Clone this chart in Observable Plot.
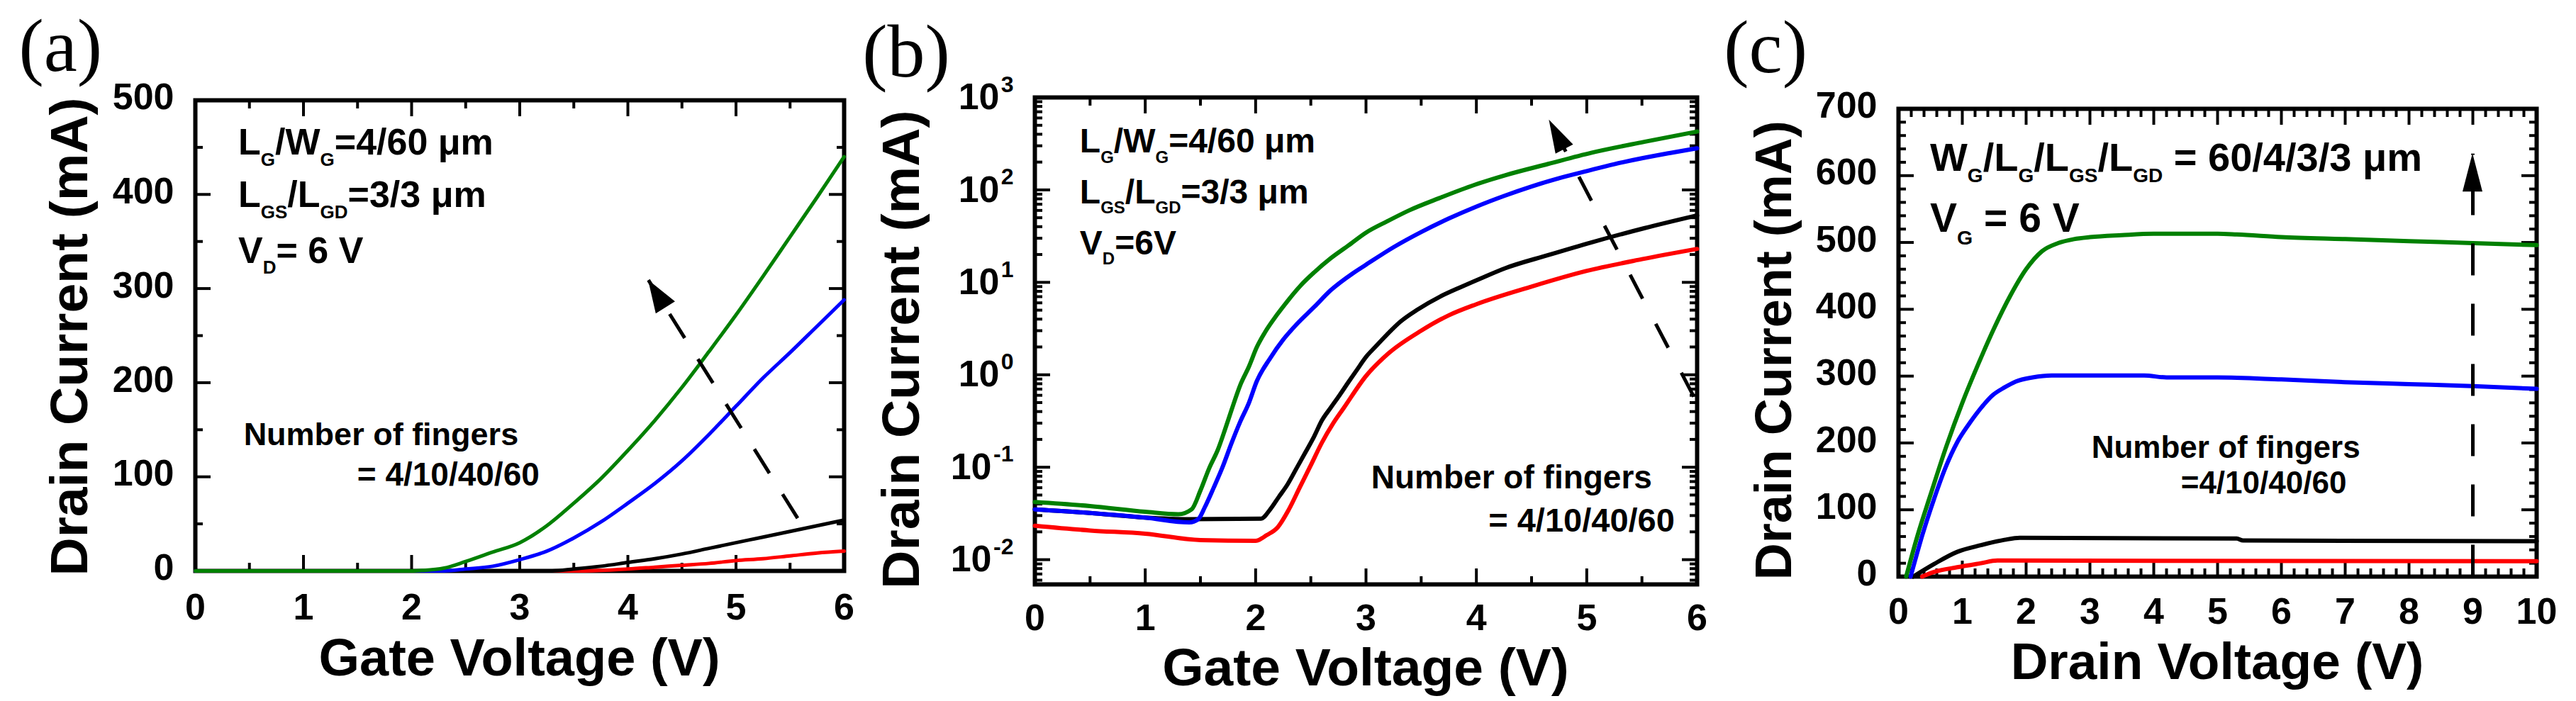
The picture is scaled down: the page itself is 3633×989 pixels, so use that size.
<!DOCTYPE html>
<html>
<head>
<meta charset="utf-8">
<script src="https://cdn.jsdelivr.net/npm/d3@7"></script>
<script src="https://cdn.jsdelivr.net/npm/@observablehq/plot@0.6"></script>
<style>
html, body { margin: 0; padding: 0; background: #fff; }
#page { position: relative; width: 3633px; height: 989px; overflow: hidden; background: #fff; }
.panel { position: absolute; top: 0; }
.panel svg { overflow: visible; max-width: none; background: transparent; }
</style>
</head>
<body>
<div id="page">
  <div class="panel" id="pa" style="left:0px;width:1200px"></div>
  <div class="panel" id="pb" style="left:1200px;width:1240px"></div>
  <div class="panel" id="pc" style="left:2440px;width:1193px"></div>
</div>
<script>
// ---------- Panel (a): Drain current vs gate voltage (linear) ----------
const aGreenV = [0, 1, 2, 2.1, 2.3, 2.5, 2.75, 3, 3.25, 3.5, 3.75, 4, 4.25, 4.5, 4.75, 5, 5.25, 5.5, 5.75, 6];
const aGreenI = [0, 0, 0, 0.5, 3, 10, 20, 30, 48, 72, 98, 128, 160, 195, 233, 272, 313, 355, 397, 440];
const aBlueV  = [0, 1, 2, 2.3, 2.5, 2.75, 3, 3.25, 3.5, 3.75, 4, 4.25, 4.5, 4.75, 5, 5.25, 5.5, 5.75, 6];
const aBlueI  = [0, 0, 0, 0, 2, 5, 12, 21, 35, 52, 72, 93, 117, 145, 175, 205, 232, 260, 288];
const aBlackV = [0, 1, 2, 3, 3.3, 3.5, 3.75, 4, 4.25, 4.5, 4.75, 5, 5.25, 5.5, 5.75, 6];
const aBlackI = [0, 0, 0, 0, 0, 2, 5, 9, 13, 18, 24, 30, 36, 42, 48, 54];
const aRedV   = [0, 1, 2, 3, 3.6, 4, 4.25, 4.5, 4.75, 5, 5.25, 5.5, 5.75, 6];
const aRedI   = [0, 0, 0, 0, 0, 2, 4, 6, 8, 11, 13, 16, 19, 21];
const aArrow  = {x1: 5.57, y1: 56, x2: 4.19, y2: 309};
const aXTicks = [0, 1, 2, 3, 4, 5, 6];
const aXMinor = [0.5, 1.5, 2.5, 3.5, 4.5, 5.5];
const aYTicks = [0, 100, 200, 300, 400, 500];
const aYMinor = [50, 150, 250, 350, 450];

// ---------- Panel (b): Drain current vs gate voltage (log) ----------
const bGreenV = [0, 0.5, 1, 1.3, 1.42, 1.5, 1.58, 1.66, 1.72, 1.78, 1.86, 1.94, 2.01, 2.09, 2.19, 2.29, 2.41, 2.53, 2.68, 2.84, 3.0, 3.19, 3.39, 3.67, 3.98, 4.26, 4.65, 5.04, 5.52, 6.0];
const bGreenI = [0.042, 0.038, 0.033, 0.031, 0.035, 0.056, 0.098, 0.157, 0.25, 0.41, 0.77, 1.23, 1.98, 2.95, 4.4, 6.3, 9.3, 12.8, 18.2, 25, 34.5, 45.6, 60, 82, 113, 144, 191, 252, 331, 428];
const bBlueV  = [0, 0.5, 1, 1.4, 1.48, 1.54, 1.62, 1.7, 1.78, 1.86, 1.94, 2.01, 2.13, 2.25, 2.37, 2.53, 2.68, 2.88, 3.0, 3.25, 3.5, 3.75, 4.0, 4.25, 4.5, 4.75, 5.0, 5.25, 5.5, 5.75, 6.0];
const bBlueI  = [0.035, 0.032, 0.0285, 0.0253, 0.0274, 0.037, 0.06, 0.1, 0.18, 0.31, 0.5, 0.85, 1.5, 2.4, 3.5, 5.4, 8.2, 12.5, 15.5, 24, 35, 49, 66, 86, 109, 134, 160, 190, 220, 250, 282];
const bBlackV = [0, 0.5, 1, 1.4, 2.05, 2.13, 2.21, 2.29, 2.37, 2.45, 2.53, 2.6, 2.68, 2.76, 2.84, 2.92, 3.0, 3.08, 3.19, 3.31, 3.47, 3.67, 3.86, 4.06, 4.26, 4.65, 5.04, 5.52, 6.0];
const bBlackI = [0.035, 0.032, 0.0285, 0.0274, 0.0278, 0.0347, 0.0477, 0.0654, 0.097, 0.144, 0.215, 0.32, 0.44, 0.6, 0.83, 1.14, 1.56, 1.98, 2.72, 3.74, 5.1, 7.0, 8.9, 11.3, 14.2, 19.7, 27, 38.5, 53];
const bRedV   = [0, 0.5, 1, 1.5, 2.0, 2.1, 2.2, 2.3, 2.4, 2.5, 2.6, 2.7, 2.8, 3.0, 3.2, 3.5, 3.75, 4.0, 4.5, 5.0, 5.5, 6.0];
const bRedI   = [0.0233, 0.0207, 0.0191, 0.0163, 0.016, 0.0184, 0.0224, 0.0347, 0.0605, 0.105, 0.184, 0.295, 0.44, 0.97, 1.69, 3.0, 4.4, 5.8, 9.0, 13.3, 17.8, 23];
const bArrow  = {x1: 5.97, y1: 0.58, x2: 4.66, y2: 572};
const bXTicks = [0, 1, 2, 3, 4, 5, 6];
const bXMinor = [0.5, 1.5, 2.5, 3.5, 4.5, 5.5];
const bYExponents = [-2, -1, 0, 1, 2, 3];
const bYMinor = [0.006, 0.007, 0.008, 0.009,
  0.02, 0.03, 0.04, 0.05, 0.06, 0.07, 0.08, 0.09,
  0.2, 0.3, 0.4, 0.5, 0.6, 0.7, 0.8, 0.9,
  2, 3, 4, 5, 6, 7, 8, 9,
  20, 30, 40, 50, 60, 70, 80, 90,
  200, 300, 400, 500, 600, 700, 800, 900];

// ---------- Panel (c): Drain current vs drain voltage ----------
const cGreenV = [0.12, 0.3, 0.5, 0.75, 1.0, 1.25, 1.5, 1.75, 2.0, 2.25, 2.5, 2.75, 3.0, 3.5, 4.0, 5.0, 5.3, 6.0, 7.0, 8.0, 9.0, 10.0];
const cGreenI = [0, 62, 122, 195, 260, 318, 372, 420, 460, 487, 499, 505, 508, 511, 513, 513, 512, 508, 505, 502, 499, 496];
const cBlueV  = [0.19, 0.37, 0.56, 0.74, 0.92, 1.11, 1.29, 1.47, 1.66, 1.84, 2.1, 2.4, 3.85, 4.2, 5.0, 6.0, 7.0, 8.0, 9.0, 10.0];
const cBlueI  = [0, 61, 117, 164, 201, 229, 252, 271, 283, 292, 298, 301, 301, 298, 298, 295, 291, 288, 285, 281];
const cBlackV = [0.23, 0.56, 0.92, 1.29, 1.66, 1.9, 5.3, 5.4, 10.0];
const cBlackI = [0, 19, 37, 47, 55, 58, 57, 54, 53];
const cRedV   = [0.37, 0.56, 0.92, 1.29, 1.55, 10.0];
const cRedI   = [0, 7, 14, 20, 24, 23];
const cArrow  = {x1: 9, y1: 0, x2: 9, y2: 633};
const cXTicks = [0, 1, 2, 3, 4, 5, 6, 7, 8, 9, 10];
const cXMinor = d3.range(0, 50).filter(i => i % 5).map(i => i / 5);
const cYTicks = [0, 100, 200, 300, 400, 500, 600, 700];
const cYMinor = d3.range(0, 35).filter(i => i % 5).map(i => i * 20);

const seriesColors = {green: "#008000", blue: "#0000ff", black: "#000000", red: "#ff0000"};

// ---------- helpers ----------
const NS = "http://www.w3.org/2000/svg";
const SANS = "'Liberation Sans', Arial, Helvetica, sans-serif";
const SERIF = "'Liberation Serif', 'Times New Roman', serif";
const intFormat = d => String(d);

function annotations(items) {
  return (index, scales) => {
    const g = document.createElementNS(NS, "g");
    for (const it of items) {
      const t = document.createElementNS(NS, "text");
      const px = scales.x(it.x), py = scales.y(it.y);
      let tr = `translate(${px},${py})`;
      if (it.rotate) tr += ` rotate(${it.rotate})`;
      t.setAttribute("transform", tr);
      t.setAttribute("text-anchor", it.anchor || "start");
      t.setAttribute("font-size", it.size);
      t.setAttribute("font-weight", it.weight || "bold");
      t.setAttribute("font-family", it.family || SANS);
      t.setAttribute("fill", "black");
      t.style.whiteSpace = "pre";
      const parts = typeof it.text === "string" ? [it.text] : it.text;
      let shift = 0;
      for (const p of parts) {
        const sub = Array.isArray(p);
        const s = document.createElementNS(NS, "tspan");
        const target = sub ? it.size * 0.3 : 0;
        if (target !== shift) { s.setAttribute("dy", target - shift); shift = target; }
        if (sub) s.setAttribute("font-size", it.size * 0.5);
        s.textContent = sub ? p[0] : p;
        t.appendChild(s);
      }
      g.appendChild(t);
    }
    return g;
  };
}

function arrowHead(ar, len, half) {
  return (index, scales) => {
    const x1 = scales.x(ar.x1), y1 = scales.y(ar.y1), x2 = scales.x(ar.x2), y2 = scales.y(ar.y2);
    const d = Math.hypot(x2 - x1, y2 - y1), ux = (x2 - x1) / d, uy = (y2 - y1) / d;
    const bx = x2 - ux * len, by = y2 - uy * len;
    const p = document.createElementNS(NS, "path");
    p.setAttribute("d", `M${x2},${y2}L${bx - uy * half},${by + ux * half}L${bx + uy * half},${by - ux * half}Z`);
    p.setAttribute("fill", "black");
    return p;
  };
}

function tickMarks(xMajor, xMinor, yMajor, yMinor) {
  const o = {fill: "none", label: null, strokeWidth: 4, stroke: "black"};
  const M = 22, m = 11;
  return [
    Plot.axisX(xMajor, {...o, anchor: "bottom", tickSize: -M}),
    Plot.axisX(xMinor, {...o, anchor: "bottom", tickSize: -m}),
    Plot.axisX(xMajor, {...o, anchor: "top", tickSize: -M}),
    Plot.axisX(xMinor, {...o, anchor: "top", tickSize: -m}),
    Plot.axisY(yMajor, {...o, anchor: "left", tickSize: -M}),
    Plot.axisY(yMinor, {...o, anchor: "left", tickSize: -m}),
    Plot.axisY(yMajor, {...o, anchor: "right", tickSize: -M}),
    Plot.axisY(yMinor, {...o, anchor: "right", tickSize: -m})
  ];
}

function curves(list, sw) {
  return list.map(([V, I, color]) =>
    Plot.line(I, {x: V, y: I, stroke: seriesColors[color], strokeWidth: sw, curve: "monotone-x"}));
}

function dashed(ar, dash, sw) {
  return Plot.link([ar], {x1: "x1", y1: "y1", x2: "x2", y2: "y2", stroke: "black", strokeWidth: sw, strokeDasharray: dash});
}

const baseStyle = {fontFamily: SANS, fontSize: "52px", fontWeight: "bold", color: "black", background: "transparent", overflow: "visible"};

// ---------- Panel (a) ----------
const plotA = Plot.plot({
  width: 1200, height: 989,
  marginLeft: 275, marginRight: 10, marginTop: 141, marginBottom: 184,
  style: baseStyle,
  x: {type: "linear", domain: [0, 6]},
  y: {type: "linear", domain: [0, 500]},
  marks: [
    Plot.frame({stroke: "black", strokeWidth: 6}),
    ...tickMarks(aXTicks, aXMinor, aYTicks, aYMinor),
    Plot.axisX(aXTicks, {anchor: "bottom", tickSize: 0, tickPadding: 32, label: null, tickFormat: intFormat}),
    Plot.axisY(aYTicks, {anchor: "left", tickSize: 0, tickPadding: 30, label: null, dy: -4, tickFormat: intFormat}),
    ...curves([[aRedV, aRedI, "red"], [aBlackV, aBlackI, "black"], [aBlueV, aBlueI, "blue"], [aGreenV, aGreenI, "green"]], 5),
    dashed(aArrow, "40,35", 5),
    arrowHead(aArrow, 46, 16),
    annotations([
      {x: 0.40, y: 442, size: 52, text: ["L", ["G"], "/W", ["G"], "=4/60 μm"]},
      {x: 0.40, y: 386, size: 52, text: ["L", ["GS"], "/L", ["GD"], "=3/3 μm"]},
      {x: 0.40, y: 327, size: 52, text: ["V", ["D"], "= 6 V"]},
      {x: 0.45, y: 133, size: 45, text: "Number of fingers"},
      {x: 1.50, y: 90, size: 46, text: "= 4/10/40/60"},
      {x: -1.63, y: 531, size: 106, weight: "normal", family: SERIF, text: "(a)"},
      {x: 3, y: -111.5, size: 74, anchor: "middle", text: "Gate Voltage (V)"},
      {x: -1.0, y: 248.5, size: 75, anchor: "middle", rotate: -90, text: "Drain Current (mA)"}
    ])
  ]
});
document.getElementById("pa").append(plotA);

// ---------- Panel (b) ----------
const plotB = Plot.plot({
  width: 1240, height: 989,
  marginLeft: 259, marginRight: 47, marginTop: 137, marginBottom: 165,
  style: baseStyle,
  x: {type: "linear", domain: [0, 6]},
  y: {type: "log", domain: [0.0054, 1000]},
  marks: [
    Plot.frame({stroke: "black", strokeWidth: 6}),
    ...tickMarks(bXTicks, bXMinor, bYExponents.map(e => 10 ** e), bYMinor),
    Plot.axisX(bXTicks, {anchor: "bottom", tickSize: 0, tickPadding: 28, label: null, tickFormat: intFormat}),
    Plot.text(bYExponents.filter(e => e >= 0), {y: e => 10 ** e, text: () => "10", frameAnchor: "left", textAnchor: "end", dx: -50, fontSize: 52, fontWeight: "bold"}),
    Plot.text(bYExponents.filter(e => e < 0), {y: e => 10 ** e, text: () => "10", frameAnchor: "left", textAnchor: "end", dx: -61, fontSize: 52, fontWeight: "bold"}),
    Plot.text(bYExponents, {y: e => 10 ** e, text: e => String(e), frameAnchor: "left", textAnchor: "end", dx: -30, dy: -18, fontSize: 32, fontWeight: "bold"}),
    ...curves([[bRedV, bRedI, "red"], [bBlackV, bBlackI, "black"], [bBlueV, bBlueI, "blue"], [bGreenV, bGreenI, "green"]], 6),
    dashed(bArrow, "38,40", 5),
    arrowHead(bArrow, 47, 14),
    annotations([
      {x: 0.41, y: 251, size: 48, text: ["L", ["G"], "/W", ["G"], "=4/60 μm"]},
      {x: 0.41, y: 71, size: 48, text: ["L", ["GS"], "/L", ["GD"], "=3/3 μm"]},
      {x: 0.41, y: 20, size: 48, text: ["V", ["D"], "=6V"]},
      {x: 3.05, y: 0.059, size: 46, text: "Number of fingers"},
      {x: 5.80, y: 0.020, size: 47, anchor: "end", text: "= 4/10/40/60"},
      {x: -1.56, y: 1668, size: 106, weight: "normal", family: SERIF, text: "(b)"},
      {x: 3, y: 0.000435, size: 75, anchor: "middle", text: "Gate Voltage (V)"},
      {x: -1.047, y: 1.86, size: 75, anchor: "middle", rotate: -90, text: "Drain Current (mA)"}
    ])
  ]
});
document.getElementById("pb").append(plotB);

// ---------- Panel (c) ----------
const plotC = Plot.plot({
  width: 1193, height: 989,
  marginLeft: 237, marginRight: 56, marginTop: 153, marginBottom: 176,
  style: baseStyle,
  x: {type: "linear", domain: [0, 10]},
  y: {type: "linear", domain: [0, 700]},
  marks: [
    Plot.frame({stroke: "black", strokeWidth: 6}),
    ...tickMarks(cXTicks, cXMinor, cYTicks, cYMinor),
    Plot.axisX(cXTicks, {anchor: "bottom", tickSize: 0, tickPadding: 30, label: null, tickFormat: intFormat}),
    Plot.axisY(cYTicks, {anchor: "left", tickSize: 0, tickPadding: 30, label: null, dy: -4, tickFormat: intFormat}),
    ...curves([[cRedV, cRedI, "red"], [cBlackV, cBlackI, "black"], [cBlueV, cBlueI, "blue"], [cGreenV, cGreenI, "green"]], 6),
    dashed(cArrow, "45,40", 5),
    arrowHead(cArrow, 54, 14),
    annotations([
      {x: 0.5, y: 607, size: 56, text: ["W", ["G"], "/L", ["G"], "/L", ["GS"], "/L", ["GD"], " = 60/4/3/3 μm"]},
      {x: 0.5, y: 515, size: 57, text: ["V", ["G"], " = 6 V"]},
      {x: 3.03, y: 177, size: 44, text: "Number of fingers"},
      {x: 4.43, y: 124, size: 44, text: "=4/10/40/60"},
      {x: -2.73, y: 754, size: 106, weight: "normal", family: SERIF, text: "(c)"},
      {x: 5, y: -154, size: 73, anchor: "middle", text: "Drain Voltage (V)"},
      {x: -1.68, y: 338, size: 72, anchor: "middle", rotate: -90, text: "Drain Current (mA)"}
    ])
  ]
});
document.getElementById("pc").append(plotC);
</script>
</body>
</html>
